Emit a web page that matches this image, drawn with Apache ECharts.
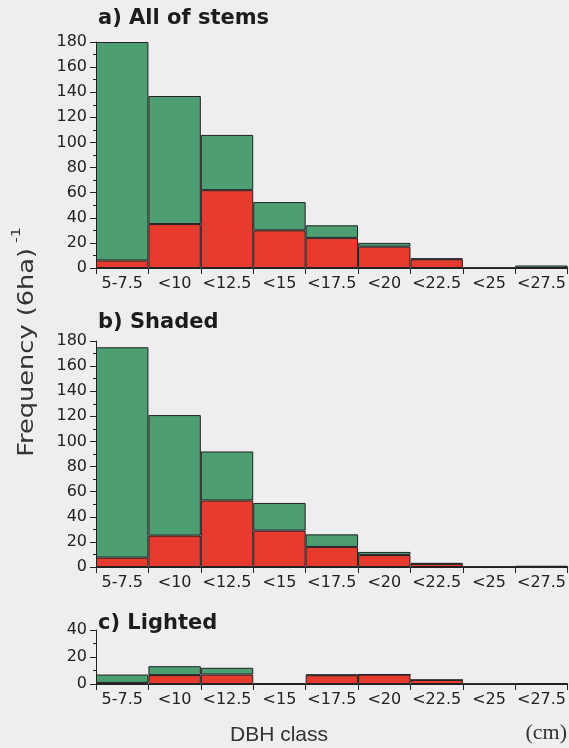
<!DOCTYPE html>
<html>
<head>
<meta charset="utf-8">
<script src="https://cdn.jsdelivr.net/npm/echarts@6/dist/echarts.min.js"></script>
<style>
  html, body { margin: 0; padding: 0; background: #eeeef0; }
  #chart { width: 569px; height: 748px; }
</style>
</head>
<body>
<div id="chart"></div>
<script>
// DBH classes (cm)
const classes = ['5-7.5', '<10', '<12.5', '<15', '<17.5', '<20', '<22.5', '<25', '<27.5'];

// a) All of stems — lower (red) and upper (green) stacked parts
const allRed   = [6, 35, 62, 30, 24, 17, 7, 0, 0];
const allGreen = [174, 102, 44, 22.5, 10, 3, 0.6, 0, 2];

// b) Shaded
const shadedRed   = [7.5, 25, 53, 29, 16, 9.5, 2.5, 0, 0];
const shadedGreen = [167.5, 96, 39, 22, 10, 2.5, 0.7, 0, 1];

// c) Lighted
const lightedRed   = [0.8, 6.6, 7, 0, 6.5, 7, 3, 0, 0];
const lightedGreen = [6.2, 6.6, 5, 0.5, 0.5, 0, 0, 0, 0.5];

// y-axis ranges per panel
const yMaxAll = 180, yMaxShaded = 180, yMaxLighted = 40;
const yStep = 20;

const panelTitles = ['a) All of stems', 'b) Shaded', 'c) Lighted'];

const RED = '#e63b2e';
const GREEN = '#4d9e72';
const INK = '#222';
const LABEL_FONT = 'DejaVu Sans';

const grids = [
  { left: 96, top: 42, width: 472, height: 226 },
  { left: 96, top: 341, width: 472, height: 226 },
  { left: 96, top: 630, width: 472, height: 54 }
];

function xAxis(i) {
  return {
    type: 'category',
    gridIndex: i,
    data: classes,
    boundaryGap: true,
    axisLine: { show: true, lineStyle: { color: INK, width: 1 } },
    axisTick: { show: true, length: 6, lineStyle: { color: INK, width: 1 } },
    axisLabel: { color: '#222', fontFamily: LABEL_FONT, fontSize: 16, margin: 8, interval: 0 },
    splitLine: { show: false }
  };
}

function yAxis(i, max) {
  return {
    type: 'value',
    gridIndex: i,
    min: 0,
    max: max,
    interval: yStep,
    axisLine: { show: true, lineStyle: { color: INK, width: 1 } },
    axisTick: { show: true, length: 6, lineStyle: { color: INK, width: 1 } },
    minorTick: { show: true, splitNumber: 2, length: 3, lineStyle: { color: INK, width: 1 } },
    axisLabel: { color: '#222', fontFamily: LABEL_FONT, fontSize: 16, margin: 9 },
    splitLine: { show: false },
    minorSplitLine: { show: false }
  };
}

function barSeries(i, data, color, name) {
  return {
    type: 'bar',
    name: name,
    xAxisIndex: i,
    yAxisIndex: i,
    stack: 'p' + i,
    data: data,
    barCategoryGap: '0%',
    itemStyle: { color: color, borderColor: INK, borderWidth: 1 },
    emphasis: { disabled: true },
    animation: false
  };
}

const titleY = [21, 325, 626];

const chart = echarts.init(document.getElementById('chart'), null, { renderer: 'canvas' });
chart.setOption({
  backgroundColor: '#eeeef0',
  animation: false,
  grid: grids,
  xAxis: [xAxis(0), xAxis(1), xAxis(2)],
  yAxis: [yAxis(0, yMaxAll), yAxis(1, yMaxShaded), yAxis(2, yMaxLighted)],
  series: [
    barSeries(0, allRed, RED, 'lower'),
    barSeries(0, allGreen, GREEN, 'upper'),
    barSeries(1, shadedRed, RED, 'lower'),
    barSeries(1, shadedGreen, GREEN, 'upper'),
    barSeries(2, lightedRed, RED, 'lower'),
    barSeries(2, lightedGreen, GREEN, 'upper')
  ],
  graphic: [
    ...panelTitles.map((t, i) => ({
      type: 'text',
      left: 98,
      top: titleY[i] - 13,
      style: { text: t, font: 'bold 21px "DejaVu Sans"', fill: '#1c1c1c' }
    })),
    {
      // rotated axis title, stretched along its length
      type: 'text',
      x: 24,
      y: 342,
      rotation: Math.PI / 2,
      scaleX: 1.22,
      style: {
        text: '{m|Frequency (6ha)}{s| -1}',
        align: 'center',
        verticalAlign: 'middle',
        rich: {
          m: { fontFamily: 'DejaVu Sans', fontSize: 21, fill: '#333', lineHeight: 28, verticalAlign: 'bottom' },
          s: { fontFamily: 'DejaVu Sans', fontSize: 13, fill: '#333', lineHeight: 28, verticalAlign: 'top' }
        }
      }
    },
    {
      type: 'text',
      x: 279,
      y: 735,
      style: { text: 'DBH class', font: '21px "Liberation Sans"', fill: '#333', align: 'center', verticalAlign: 'middle' }
    },
    {
      type: 'text',
      x: 567,
      y: 733,
      style: { text: '(cm)', font: '22px "Liberation Serif"', fill: '#333', align: 'right', verticalAlign: 'middle' }
    }
  ]
});
</script>
</body>
</html>
